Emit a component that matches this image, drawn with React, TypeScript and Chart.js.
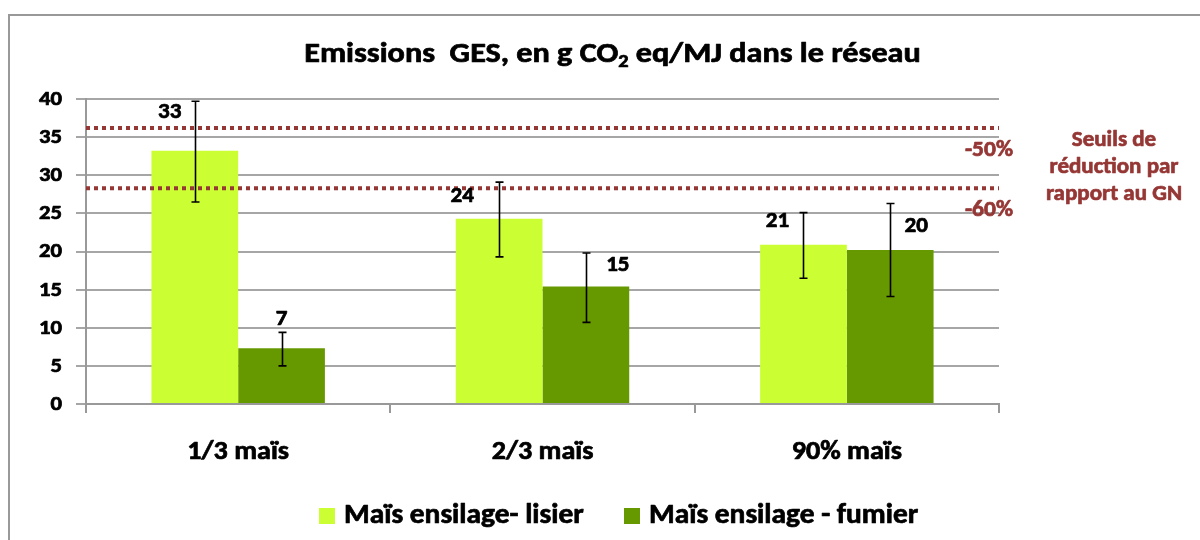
import React, { useEffect, useRef } from "react";
import { Chart, registerables } from "chart.js";

Chart.register(...registerables);

const categories = ["1/3 maïs", "2/3 maïs", "90% maïs"];
const seriesNames = ["Maïs ensilage- lisier", "Maïs ensilage - fumier"];
const lisier = [33.2, 24.3, 20.9];
const fumier = [7.3, 15.4, 20.2];
const lisierErrLow = [26.5, 19.3, 16.5];
const lisierErrHigh = [39.7, 29.1, 25.1];
const fumierErrLow = [5.0, 10.7, 14.1];
const fumierErrHigh = [9.4, 19.8, 26.3];
const lisierLabels = ["33", "24", "21"];
const fumierLabels = ["7", "15", "20"];
const thresholds = [36.2, 28.3];
const thresholdLabels = ["-50%", "-60%"];
const noteLines = ["Seuils de", "réduction par", "rapport au GN"];
const yTicks = [0, 5, 10, 15, 20, 25, 30, 35, 40];

const FONT = "Carlito, Lato, 'Open Sans', sans-serif";
const LIGHT = "#CCFF33";
const DARK = "#669900";
const RED = "#953735";
const HEAVY = 0.7;

// label pixel offsets relative to bar top (style only)
const labelDx = [[-25, -37, -26], [0, 32, 26]];
const labelDy = [[-38, -22, -23], [-29, -21, -23]];

function drawText(ctx: any, text: string, x: number, y: number, size: number, align: string, stretch: number, color: string) {
  ctx.save();
  ctx.font = `bold ${size}px ${FONT}`;
  ctx.fillStyle = color;
  ctx.strokeStyle = color;
  ctx.lineWidth = HEAVY;
  ctx.lineJoin = "round";
  ctx.textAlign = align;
  ctx.textBaseline = "middle";
  ctx.translate(x, y);
  ctx.scale(stretch, 1);
  ctx.fillText(text, 0, 0);
  ctx.strokeText(text, 0, 0);
  ctx.restore();
}

const overlay = {
  id: "overlay",
  beforeDraw(chart: any) {
    const ctx = chart.ctx;
    ctx.save();
    ctx.fillStyle = "#ffffff";
    ctx.fillRect(0, 0, chart.width, chart.height);
    ctx.strokeStyle = "#999999";
    ctx.lineWidth = 2;
    ctx.beginPath();
    ctx.moveTo(9, 540);
    ctx.lineTo(9, 15);
    ctx.lineTo(1200, 15);
    ctx.stroke();
    ctx.restore();
  },
  afterDatasetsDraw(chart: any) {
    const ctx = chart.ctx;
    const ys = chart.scales.y;
    const xs = chart.scales.x;
    const area = chart.chartArea;
    ctx.save();
    // threshold dotted lines
    ctx.strokeStyle = RED;
    ctx.lineWidth = 4;
    ctx.setLineDash([4, 4]);
    thresholds.forEach((t) => {
      const y = ys.getPixelForValue(t);
      ctx.beginPath();
      ctx.moveTo(area.left, y);
      ctx.lineTo(area.right, y);
      ctx.stroke();
    });
    ctx.setLineDash([]);
    // error bars
    const lows = [lisierErrLow, fumierErrLow];
    const highs = [lisierErrHigh, fumierErrHigh];
    const labs = [lisierLabels, fumierLabels];
    ctx.strokeStyle = "#000";
    ctx.lineWidth = 1.6;
    [0, 1].forEach((d) => {
      const meta = chart.getDatasetMeta(d);
      meta.data.forEach((bar: any, i: number) => {
        const x = Math.round(bar.x) + 0.5;
        const y1 = ys.getPixelForValue(highs[d][i]);
        const y2 = ys.getPixelForValue(lows[d][i]);
        ctx.beginPath();
        ctx.moveTo(x, y1);
        ctx.lineTo(x, y2);
        ctx.moveTo(x - 4, y1);
        ctx.lineTo(x + 4, y1);
        ctx.moveTo(x - 4, y2);
        ctx.lineTo(x + 4, y2);
        ctx.stroke();
      });
    });
    ctx.restore();
    // data labels
    [0, 1].forEach((d) => {
      const meta = chart.getDatasetMeta(d);
      meta.data.forEach((bar: any, i: number) => {
        drawText(ctx, labs[d][i], bar.x + labelDx[d][i], bar.y + labelDy[d][i], 22, "center", 1.05, "#000");
      });
    });
    // y tick labels
    yTicks.forEach((v) => {
      drawText(ctx, String(v), 62, ys.getPixelForValue(v) + 1, 19.5, "right", 1.16, "#000");
    });
    // category labels
    categories.forEach((c, i) => {
      drawText(ctx, c, xs.getPixelForValue(i), 452, 26, "center", 1.08, "#000");
    });
    // threshold labels
    thresholds.forEach((t, i) => {
      drawText(ctx, thresholdLabels[i], 1013, ys.getPixelForValue(t) + 22, 23, "right", 1.02, RED);
    });
    // note
    noteLines.forEach((l, i) => {
      drawText(ctx, l, 1114, 140 + i * 27, 23, "center", 1.0, RED);
    });
    // title
    ctx.save();
    ctx.fillStyle = "#000";
    ctx.strokeStyle = "#000";
    ctx.lineWidth = HEAVY;
    ctx.lineJoin = "round";
    ctx.textAlign = "left";
    ctx.textBaseline = "alphabetic";
    const stretch = 1.13;
    const big = `bold 28.5px ${FONT}`;
    const small = `bold 18px ${FONT}`;
    const p1 = "Emissions  GES, en g CO";
    const p2 = "2";
    const p3 = " eq/MJ dans le réseau";
    ctx.font = big;
    const w1 = ctx.measureText(p1).width;
    const w3 = ctx.measureText(p3).width;
    ctx.font = small;
    const w2 = ctx.measureText(p2).width;
    const total = (w1 + w2 + w3) * stretch;
    ctx.translate(612.5 - total / 2, 62);
    ctx.scale(stretch, 1);
    let x = 0;
    ctx.font = big;
    ctx.fillText(p1, x, 0);
    ctx.strokeText(p1, x, 0);
    x += w1;
    ctx.font = small;
    ctx.fillText(p2, x, 5);
    ctx.strokeText(p2, x, 5);
    x += w2;
    ctx.font = big;
    ctx.fillText(p3, x, 0);
    ctx.strokeText(p3, x, 0);
    ctx.restore();
    // legend
    const colors = [LIGHT, DARK];
    const lx = [319, 624];
    seriesNames.forEach((n, i) => {
      ctx.save();
      ctx.fillStyle = colors[i];
      ctx.fillRect(lx[i], 508, 16, 16);
      ctx.restore();
      drawText(ctx, n, lx[i] + 25, 516, 28, "left", 1.05, "#000");
    });
  },
};

export default function App() {
  const ref = useRef<HTMLCanvasElement>(null);
  useEffect(() => {
    document.body.style.margin = "0";
    const chart = new Chart(ref.current!, {
      type: "bar",
      data: {
        labels: categories,
        datasets: [
          { label: seriesNames[0], data: lisier, backgroundColor: LIGHT, borderWidth: 0 },
          { label: seriesNames[1], data: fumier, backgroundColor: DARK, borderWidth: 0 },
        ],
      },
      options: {
        animation: false,
        responsive: false,
        layout: { padding: { left: 0, right: 201, top: 99, bottom: 0 } },
        plugins: { legend: { display: false }, title: { display: false }, tooltip: { enabled: false } },
        datasets: { bar: { barPercentage: 1, categoryPercentage: 0.57 } },
        scales: {
          x: {
            grid: { offset: true, drawOnChartArea: false, color: "#999999", lineWidth: 2, tickLength: 9 },
            border: { color: "#999999", width: 2 },
            ticks: { display: false },
            afterFit(s: any) { s.height = 136; },
          },
          y: {
            min: 0,
            max: 40,
            afterBuildTicks(s: any) { s.ticks = yTicks.map((v) => ({ value: v })); },
            grid: { color: "#a6a6a6", lineWidth: 2, tickLength: 10 },
            border: { color: "#999999", width: 2 },
            ticks: { display: false },
            afterFit(s: any) { s.width = 86; },
          },
        },
      },
      plugins: [overlay],
    });
    return () => chart.destroy();
  }, []);
  return (
    <div style={{ width: 1200, height: 540 }}>
      <canvas ref={ref} width={1200} height={540} style={{ display: "block" }} />
    </div>
  );
}
